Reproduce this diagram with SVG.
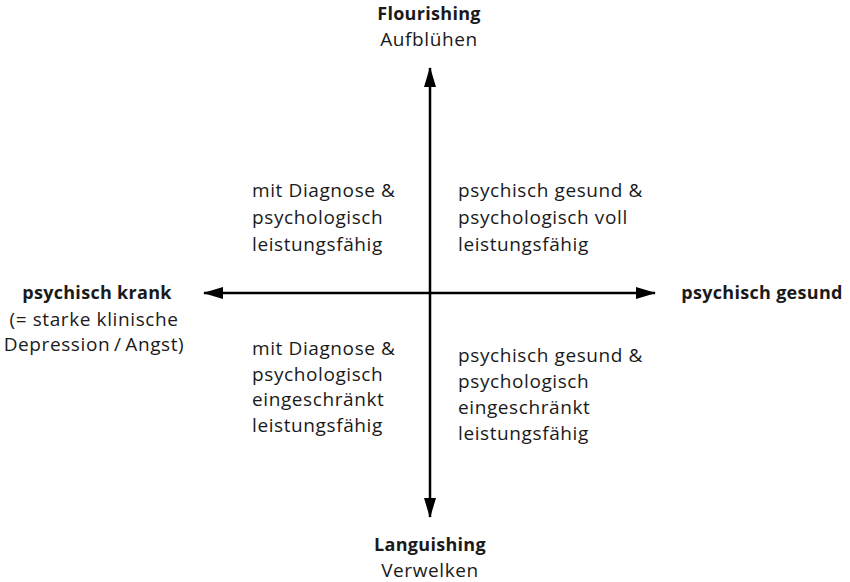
<svg xmlns="http://www.w3.org/2000/svg" width="850" height="582" viewBox="0 0 850 582">
<style>
text{font-family:"Open Sans","Noto Sans",sans-serif;font-size:19px;letter-spacing:0.6px;fill:#1a1a1a;}
.b{font-weight:bold;font-size:18px;letter-spacing:0.3px;}
.c{text-anchor:middle;}
.ax{stroke:#000;stroke-width:2.5;fill:none;}
</style>
<defs>
<marker id="ah" viewBox="0 0 20 12" refX="19" refY="6" markerWidth="20" markerHeight="12" markerUnits="userSpaceOnUse" orient="auto-start-reverse">
<path d="M0,0 L20,6 L0,12 Z" fill="#000"/>
</marker>
</defs>
<g id="connectors">
<line class="ax" x1="430" y1="68" x2="430" y2="517" marker-start="url(#ah)" marker-end="url(#ah)"/>
<line class="ax" x1="204" y1="293" x2="655" y2="293" marker-start="url(#ah)" marker-end="url(#ah)"/>
</g>
<g id="top">
<text class="b c" x="429" y="20">Flourishing</text>
<text class="c" x="429" y="46">Aufblühen</text>
</g>
<g id="bottom">
<text class="b c" x="430" y="551">Languishing</text>
<text class="c" x="430" y="577">Verwelken</text>
</g>
<g id="left">
<text class="b c" x="97" y="299">psychisch krank</text>
<text class="c" x="94" y="326">(= starke klinische</text>
<text class="c" x="94" y="351">Depression&#8201;/&#8201;Angst)</text>
</g>
<g id="right">
<text class="b c" x="762" y="299">psychisch gesund</text>
</g>
<g id="q-ul">
<text x="252" y="197">mit Diagnose &amp;</text>
<text x="252" y="224">psychologisch</text>
<text x="252" y="251">leistungsfähig</text>
</g>
<g id="q-ur">
<text x="458" y="197">psychisch gesund &amp;</text>
<text x="458" y="224">psychologisch voll</text>
<text x="458" y="251">leistungsfähig</text>
</g>
<g id="q-ll">
<text x="252" y="355">mit Diagnose &amp;</text>
<text x="252" y="381">psychologisch</text>
<text x="252" y="406">eingeschränkt</text>
<text x="252" y="432">leistungsfähig</text>
</g>
<g id="q-lr">
<text x="458" y="362">psychisch gesund &amp;</text>
<text x="458" y="388">psychologisch</text>
<text x="458" y="414">eingeschränkt</text>
<text x="458" y="440">leistungsfähig</text>
</g>
</svg>
